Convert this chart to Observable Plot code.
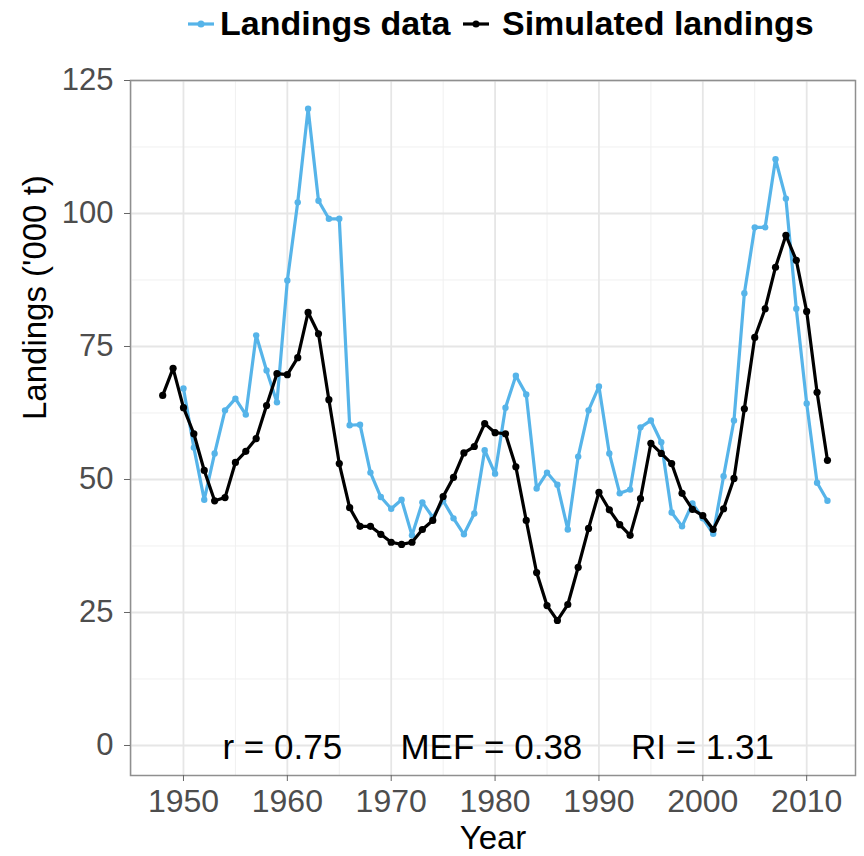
<!DOCTYPE html>
<html><head><meta charset="utf-8">
<script src="https://cdn.jsdelivr.net/npm/d3@7"></script>
<script src="https://cdn.jsdelivr.net/npm/@observablehq/plot@0.6"></script>
<style>
body{margin:0;background:#fff;font-family:"Liberation Sans",Arial,sans-serif;}
#legend{position:relative;height:50px;width:864px;}
.lg-key{position:absolute;top:10px;}
.lg-txt{position:absolute;top:4px;font-weight:bold;font-size:34px;color:#000;line-height:38px;white-space:nowrap;}
</style></head><body>
<div id="legend"></div>
<div id="chart"></div>
<script>
// ---- data ----
const simYears = [1948,1949,1950,1951,1952,1953,1954,1955,1956,1957,1958,1959,1960,1961,1962,1963,1964,1965,1966,1967,1968,1969,1970,1971,1972,1973,1974,1975,1976,1977,1978,1979,1980,1981,1982,1983,1984,1985,1986,1987,1988,1989,1990,1991,1992,1993,1994,1995,1996,1997,1998,1999,2000,2001,2002,2003,2004,2005,2006,2007,2008,2009,2010,2011,2012];
const simulated = [65.8,70.9,63.5,58.6,51.7,46.0,46.6,53.2,55.3,57.7,63.9,69.9,69.7,72.9,81.4,77.4,65.0,53.0,44.7,41.2,41.2,39.7,38.2,37.8,38.2,40.6,42.3,46.8,50.4,55.0,56.2,60.5,58.8,58.6,52.4,42.3,32.5,26.3,23.5,26.5,33.5,40.8,47.6,44.3,41.5,39.5,46.4,56.8,54.9,53.0,47.4,44.4,43.2,40.6,44.5,50.2,63.3,76.7,82.1,89.9,95.9,91.2,81.6,66.4,53.6];
const obsYears = [1950,1951,1952,1953,1954,1955,1956,1957,1958,1959,1960,1961,1962,1963,1964,1965,1966,1967,1968,1969,1970,1971,1972,1973,1974,1975,1976,1977,1978,1979,1980,1981,1982,1983,1984,1985,1986,1987,1988,1989,1990,1991,1992,1993,1994,1995,1996,1997,1998,1999,2000,2001,2002,2003,2004,2005,2006,2007,2008,2009,2010,2011,2012];
const landings = [67.1,56.0,46.2,54.9,63.0,65.2,62.2,77.1,70.5,64.5,87.4,102.1,119.7,102.4,99.0,99.0,60.2,60.3,51.3,46.7,44.5,46.2,39.5,45.7,42.9,46.0,42.7,39.7,43.6,55.5,51.1,63.5,69.5,66.0,48.3,51.3,49.0,40.6,54.3,63.0,67.5,54.9,47.4,48.1,59.8,61.1,57.0,43.8,41.2,45.5,42.7,39.8,50.6,61.1,85.0,97.4,97.4,110.2,102.8,82.1,64.3,49.4,46.0];
const seriesNames = ["Landings data", "Simulated landings"];
const xTicks = [1950,1960,1970,1980,1990,2000,2010];
const xMinor = [1945,1955,1965,1975,1985,1995,2005];
const yTicks = [0,25,50,75,100,125];
const yMinor = [12.5,37.5,62.5,87.5,112.5];
const xTitle = "Year";
const yTitle = "Landings ('000 t)";
const statsLabel = "r = 0.75\u00a0\u00a0\u00a0\u00a0\u00a0 MEF = 0.38\u00a0\u00a0\u00a0\u00a0 RI = 1.31";

const BLUE = "#56B4E9";
const seriesColors = [BLUE, "#000000"];

// ---- legend ----
const legend = document.getElementById("legend");
const keyLeft = [187, 462], txtLeft = [220, 502];
seriesNames.forEach((name, i) => {
  const k = document.createElementNS("http://www.w3.org/2000/svg", "svg");
  k.setAttribute("width", 28); k.setAttribute("height", 28);
  k.setAttribute("class", "lg-key");
  k.style.left = keyLeft[i] + "px";
  k.innerHTML = `<line x1="1" x2="27" y1="14" y2="14" stroke="${seriesColors[i]}" stroke-width="3.2"/><circle cx="14" cy="14" r="3.5" fill="${seriesColors[i]}"/>`;
  legend.appendChild(k);
  const t = document.createElement("div");
  t.className = "lg-txt"; t.style.left = txtLeft[i] + "px"; t.textContent = name;
  legend.appendChild(t);
});

// ---- chart ----
const simData = simYears.map((year, i) => ({year, value: simulated[i]}));
const obsData = obsYears.map((year, i) => ({year, value: landings[i]}));

const chart = Plot.plot({
  width: 864, height: 806,
  marginTop: 30, marginRight: 9, marginBottom: 81, marginLeft: 130,
  style: {fontFamily: '"Liberation Sans", Arial, sans-serif', background: "white", color: "#4d4d4d"},
  x: {domain: [1944.9, 2014.7]},
  y: {domain: [-5.64, 125]},
  marks: [
    Plot.gridX(xMinor, {stroke: "#f0f0f0", strokeOpacity: 1, strokeWidth: 1}),
    Plot.gridY(yMinor, {stroke: "#f0f0f0", strokeOpacity: 1, strokeWidth: 1}),
    Plot.gridX(xTicks, {stroke: "#e6e6e6", strokeOpacity: 1, strokeWidth: 1.8}),
    Plot.gridY(yTicks, {stroke: "#e6e6e6", strokeOpacity: 1, strokeWidth: 1.8}),
    Plot.frame({stroke: "#8f8f8f", strokeWidth: 1.5}),
    Plot.axisX(xTicks, {tickSize: 6, tickPadding: 8, stroke: "#666", fill: "#4d4d4d", fontSize: 32, label: null, tickFormat: d => String(d)}),
    Plot.axisY(yTicks, {tickSize: 6, tickPadding: 11, stroke: "#666", fill: "#4d4d4d", fontSize: 31, label: null}),
    Plot.text([xTitle], {frameAnchor: "bottom", dy: 63, lineAnchor: "middle", fill: "#000", fontSize: 33, text: d => d}),
    Plot.text([yTitle], {frameAnchor: "left", rotate: -90, dx: -95, dy: -8, lineAnchor: "middle", fill: "#000", fontSize: 33, text: d => d}),
    Plot.line(obsData, {x: "year", y: "value", stroke: BLUE, strokeWidth: 3.2}),
    Plot.dot(obsData, {x: "year", y: "value", fill: BLUE, r: 3.2}),
    Plot.line(simData, {x: "year", y: "value", stroke: "#000", strokeWidth: 3.2}),
    Plot.dot(simData, {x: "year", y: "value", fill: "#000", r: 3.6}),
    Plot.text([statsLabel], {x: [1980.3], y: [0], lineAnchor: "middle", dy: 2, fill: "#000", fontSize: 35, text: d => d})
  ]
});
document.getElementById("chart").appendChild(chart);
</script>
</body></html>
